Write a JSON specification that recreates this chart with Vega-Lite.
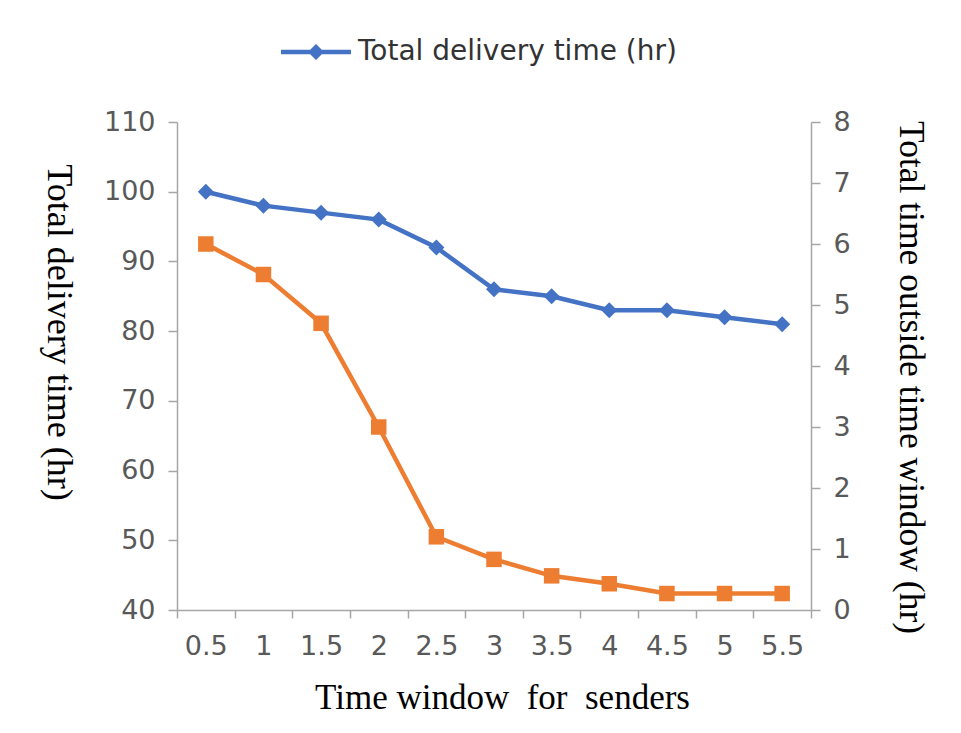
{
  "$schema": "https://vega.github.io/schema/vega-lite/v6.json",
  "autosize": "none",
  "width": 634,
  "height": 488,
  "padding": {"left": 177, "top": 122, "right": 150, "bottom": 123},
  "background": "#ffffff",
  "data": {
    "values": [
      {"w": "0.5", "delivery": 100, "outside": 6.0},
      {"w": "1", "delivery": 98, "outside": 5.5},
      {"w": "1.5", "delivery": 97, "outside": 4.7},
      {"w": "2", "delivery": 96, "outside": 3.0},
      {"w": "2.5", "delivery": 92, "outside": 1.2},
      {"w": "3", "delivery": 86, "outside": 0.83},
      {"w": "3.5", "delivery": 85, "outside": 0.56},
      {"w": "4", "delivery": 83, "outside": 0.43},
      {"w": "4.5", "delivery": 83, "outside": 0.27},
      {"w": "5", "delivery": 82, "outside": 0.27},
      {"w": "5.5", "delivery": 81, "outside": 0.27}
    ]
  },
  "encoding": {
    "x": {
      "field": "w",
      "type": "ordinal",
      "sort": null,
      "scale": {"type": "band", "paddingInner": 0, "paddingOuter": 0},
      "axis": {
        "title": "Time window\u00a0 for\u00a0 senders",
        "labelAngle": 0,
        "tickBand": "extent",
        "tickSize": 8,
        "labelPadding": 15,
        "titleX": 325,
        "titleY": 87,
        "titleFontSize": 35,
        "titleAlign": "center",
        "titleBaseline": "middle"
      }
    }
  },
  "layer": [
    {
      "encoding": {
        "y": {
          "field": "delivery",
          "type": "quantitative",
          "scale": {"domain": [40, 110], "nice": false, "zero": false},
          "axis": {
            "orient": "left",
            "values": [40, 50, 60, 70, 80, 90, 100, 110],
            "title": "Total delivery time (hr)",
            "titleAngle": 90,
            "titleFontSize": 36,
            "titleX": -119,
            "titleY": 210,
            "titleAlign": "center",
            "titleBaseline": "middle"
          }
        }
      },
      "layer": [
        {
          "mark": {"type": "line", "color": "#4472C4", "strokeWidth": 4.5}
        },
        {
          "mark": {"type": "point", "shape": "diamond", "filled": true, "size": 256, "opacity": 1},
          "encoding": {
            "color": {
              "datum": "Total delivery time (hr)",
              "type": "nominal",
              "scale": {"range": ["#4472C4"]},
              "legend": {
                "title": null,
                "orient": "none",
                "legendX": 104,
                "legendY": -105,
                "symbolType": "M-1,-0.065H1V0.065H-1Z M0,-0.23L0.23,0L0,0.23L-0.23,0Z",
                "symbolSize": 4900,
                "symbolStrokeWidth": 0,
                "labelFont": "DejaVu Sans",
                "labelFontSize": 28,
                "labelColor": "#333333",
                "labelLimit": 0,
                "labelOffset": 7
              }
            }
          }
        }
      ]
    },
    {
      "encoding": {
        "y": {
          "field": "outside",
          "type": "quantitative",
          "scale": {"domain": [0, 8], "nice": false},
          "axis": {
            "orient": "right",
            "values": [0, 1, 2, 3, 4, 5, 6, 7, 8],
            "title": "Total time outside time window (hr)",
            "titleAngle": 90,
            "titleFontSize": 35.5,
            "titleX": 99,
            "titleY": 255,
            "titleAlign": "center",
            "titleBaseline": "middle"
          }
        }
      },
      "layer": [
        {
          "mark": {"type": "line", "color": "#ED7D31", "strokeWidth": 4.5}
        },
        {
          "mark": {"type": "point", "shape": "square", "filled": true, "size": 240, "color": "#ED7D31", "opacity": 1}
        }
      ]
    }
  ],
  "resolve": {"scale": {"y": "independent"}},
  "config": {
    "view": {"stroke": null},
    "axis": {
      "grid": false,
      "domainColor": "#a6a6a6",
      "tickColor": "#a6a6a6",
      "domainWidth": 1.5,
      "tickWidth": 1.5,
      "tickSize": 9,
      "labelFont": "DejaVu Sans",
      "labelFontSize": 27,
      "labelColor": "#595959",
      "labelPadding": 13,
      "titleFont": "Liberation Serif",
      "titleFontSize": 34,
      "titleFontWeight": "normal",
      "titleColor": "#000000"
    }
  }
}
